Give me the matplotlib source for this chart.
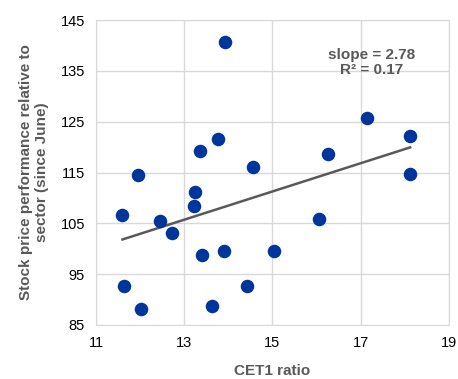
import numpy as np
import matplotlib.pyplot as plt

plt.rcParams['font.family'] = ['Liberation Sans', 'DejaVu Sans']

# CET1 ratio vs relative stock performance
cet1 = [13.92, 17.14, 18.12, 18.12, 16.25, 13.76, 13.36, 14.55, 11.96, 13.24, 13.21,
        11.60, 12.44, 16.06, 12.72, 13.40, 13.90, 15.04, 11.63, 14.42, 12.01, 13.62]
perf = [140.7, 125.7, 122.2, 114.8, 118.6, 121.5, 119.2, 116.0, 114.5, 111.2, 108.5,
        106.6, 105.5, 105.8, 103.0, 98.7, 99.5, 99.5, 92.7, 92.7, 88.1, 88.7]
x_ticks = [11, 13, 15, 17, 19]
y_ticks = [85, 95, 105, 115, 125, 135, 145]
fit_text = "slope = 2.78\nR² = 0.17"

grey = '#595959'
fig = plt.figure(figsize=(4.58, 3.79), dpi=100)
ax = fig.add_axes([0.2096, 0.1425, 0.7707, 0.8047])

ax.scatter(cet1, perf, s=95, color='#00359c', zorder=3, linewidths=0)

# linear trend over the data range
k, b = np.polyfit(cet1, perf, 1)
xs = np.array([min(cet1), max(cet1)])
ax.plot(xs, k * xs + b, color=grey, lw=1.8, zorder=2)

ax.set_xlim(11, 19)
ax.set_ylim(85, 145)
ax.set_xticks(x_ticks)
ax.set_yticks(y_ticks)
ax.grid(True, color='#d9d9d9', lw=1)
ax.set_axisbelow(True)
for s in ax.spines.values():
    s.set_color('#d9d9d9')
ax.tick_params(length=0, labelsize=10.5, pad=8, colors='#000000')

ax.set_xlabel("CET1 ratio", fontsize=11, fontweight='bold', color=grey, labelpad=10)
ax.set_ylabel("Stock price performance relative to\nsector (since June)", fontsize=11,
              fontweight='bold', color=grey, labelpad=8)

ax.text(17.25, 139.5, fit_text, ha='center', va='top', fontsize=11,
        fontweight='bold', color=grey, linespacing=1.1)

fig.savefig('out.png', dpi=100)
